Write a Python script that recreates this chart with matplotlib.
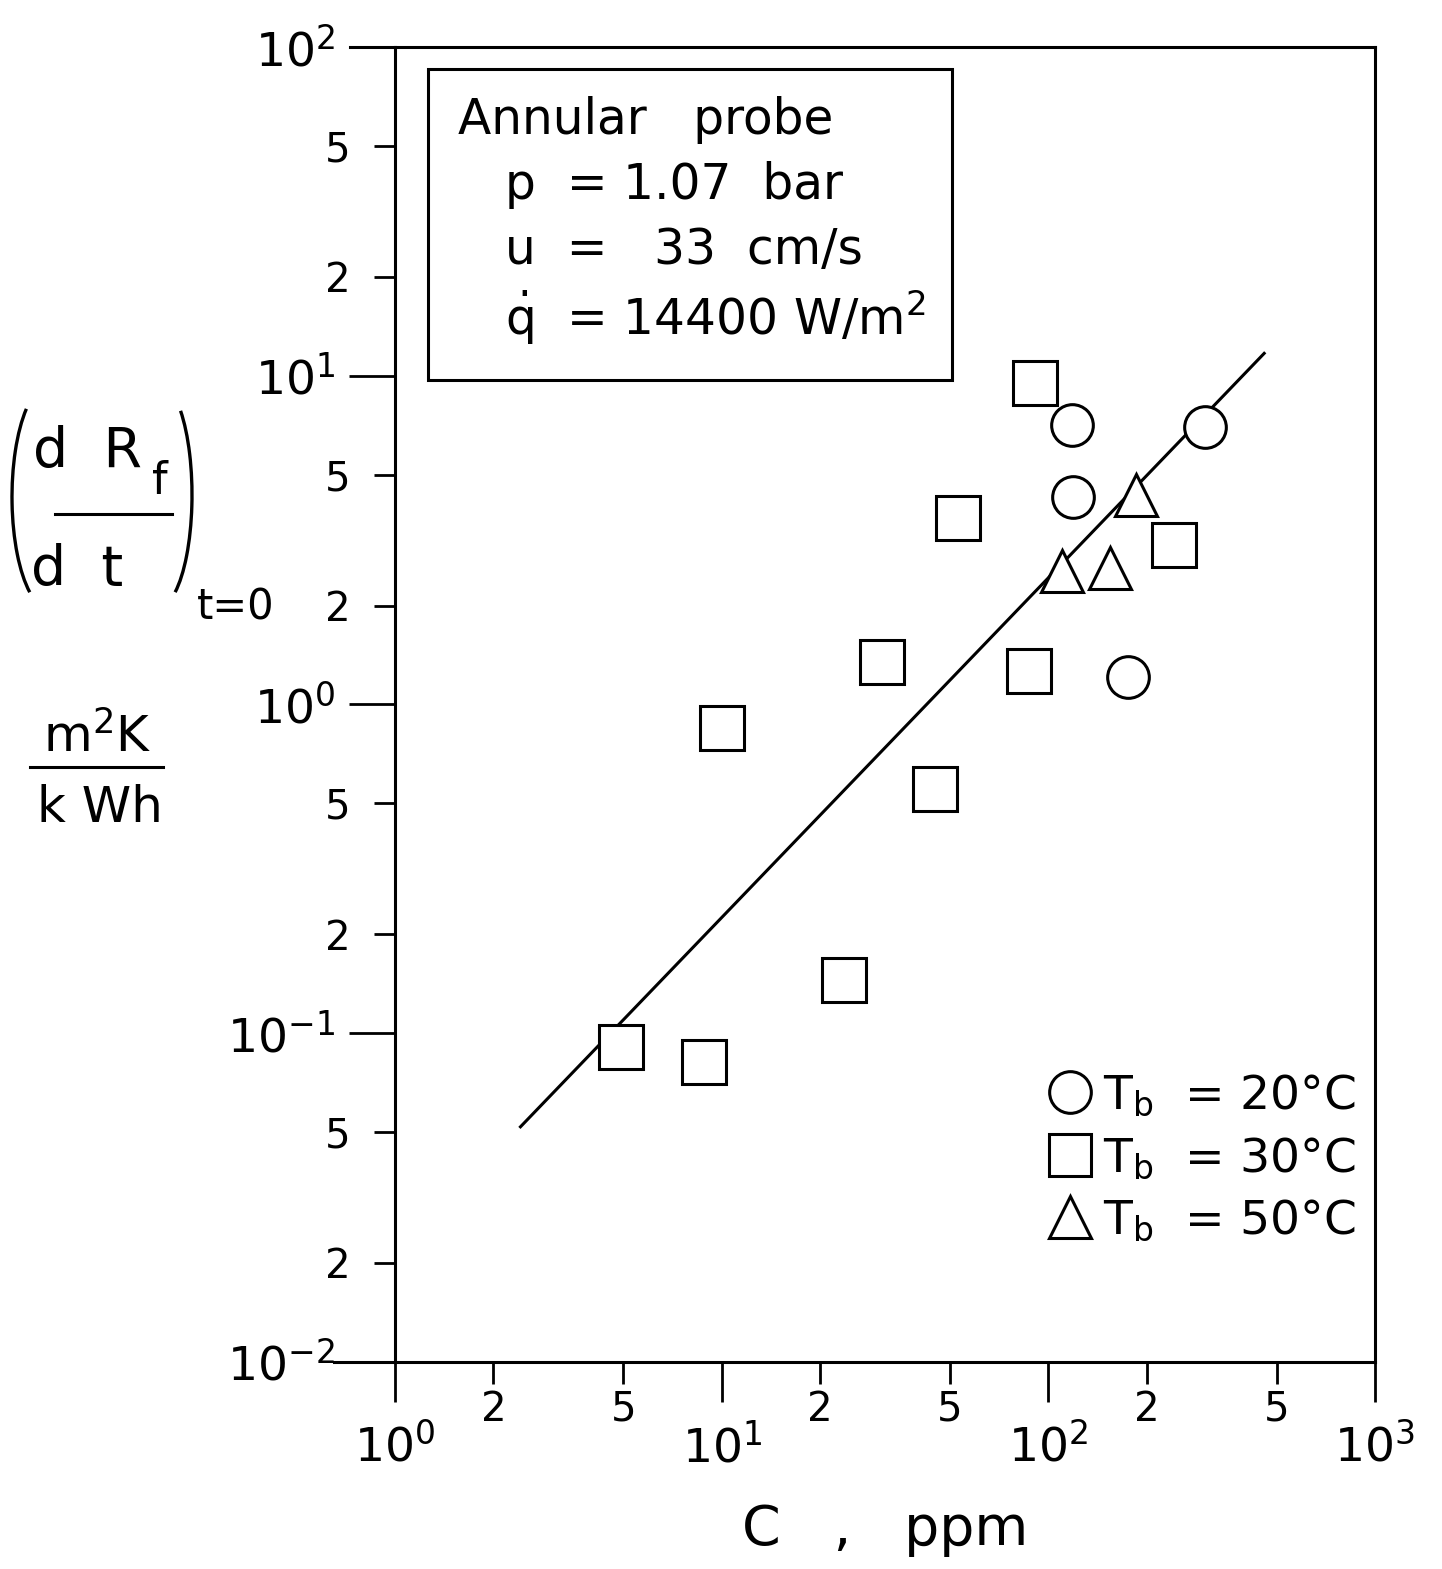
import matplotlib
matplotlib.use("Agg")
import matplotlib.pyplot as plt
import numpy as np
from matplotlib.lines import Line2D
from matplotlib.patches import Rectangle, Arc
from matplotlib.ticker import FixedLocator, FuncFormatter, FixedFormatter


# concentration C (ppm) and initial fouling rate (m2K/kWh) per bulk temperature
c_20 = [118, 301, 119, 175]
rate_20 = [7.1, 7.0, 4.28, 1.21]

c_30 = [91, 53, 243, 31, 87, 10, 45, 23.6, 4.9, 8.8]
rate_30 = [9.5, 3.7, 3.05, 1.35, 1.26, 0.85, 0.553, 0.145, 0.0908, 0.0818]

c_50 = [185, 110, 154]
rate_50 = [4.33, 2.55, 2.60]

# fitted line, end points
fit_c = [2.42, 458]
fit_rate = [0.0519, 11.7]

legend_labels = [r"$\mathrm{T_b}$  = 20°C", r"$\mathrm{T_b}$  = 30°C", r"$\mathrm{T_b}$  = 50°C"]
box_lines = [
    "Annular   probe",
    "p  = 1.07  bar",
    "u  =   33  cm/s",
    r"$\dot{\mathrm{q}}$  = 14400 W/m$^2$",
]

X_MINOR = [2, 5, 20, 50, 200, 500]
X_MINOR_LABELS = ["2", "5", "2", "5", "2", "5"]
Y_MINOR = [0.02, 0.05, 0.2, 0.5, 2, 5, 20, 50]
Y_MINOR_LABELS = ["2", "5", "2", "5", "2", "5", "2", "5"]

W, H = 1442, 1569


def decade_label(v, pos):
    return rf"$\mathrm{{10^{{{int(round(np.log10(v)))}}}}}$"


def px(x, y):
    return x / W, 1 - y / H


def main() -> None:
    plt.rcParams["font.family"] = ["DejaVu Sans"]
    plt.rcParams["mathtext.fontset"] = "dejavusans"

    fig = plt.figure(figsize=(W / 100, H / 100), dpi=100)
    ax = fig.add_axes([0.274, 0.132, 0.6795, 0.838])

    ax.plot(fit_c, fit_rate, color="black", lw=2.2, zorder=2)
    mk = dict(ls="none", mfc="white", mec="black", mew=2.2, zorder=3)
    ax.plot(c_20, rate_20, marker="o", ms=30, **mk)
    ax.plot(c_30, rate_30, marker="s", ms=31, **mk)
    ax.plot(c_50, rate_50, marker="^", ms=30, **mk)

    ax.set_xscale("log")
    ax.set_yscale("log")
    ax.set_xlim(1, 1000)
    ax.set_ylim(0.01, 100)

    ax.xaxis.set_major_locator(FixedLocator([1, 10, 100, 1000]))
    ax.yaxis.set_major_locator(FixedLocator([0.01, 0.1, 1, 10, 100]))
    ax.xaxis.set_major_formatter(FuncFormatter(decade_label))
    ax.yaxis.set_major_formatter(FuncFormatter(decade_label))
    ax.xaxis.set_minor_locator(FixedLocator(X_MINOR))
    ax.yaxis.set_minor_locator(FixedLocator(Y_MINOR))
    ax.xaxis.set_minor_formatter(FixedFormatter(X_MINOR_LABELS))
    ax.yaxis.set_minor_formatter(FixedFormatter(Y_MINOR_LABELS))

    ax.tick_params(axis="x", which="major", length=29, width=2, pad=16, labelsize=34)
    ax.tick_params(axis="x", which="minor", length=16, width=2, pad=4, labelsize=29)
    ax.tick_params(axis="y", which="major", length=33, width=2, pad=10, labelsize=34)
    ax.tick_params(axis="y", which="minor", length=15, width=2, pad=17, labelsize=29)

    for sp in ax.spines.values():
        sp.set_linewidth(2.2)
    # frame lines run a bit past the left spine
    ax.plot([-0.046, 0], [1, 1], transform=ax.transAxes, color="black", lw=2.2, clip_on=False)
    ax.plot([-0.062, 0], [0, 0], transform=ax.transAxes, color="black", lw=2.2, clip_on=False)

    ax.set_xlabel("C   ,   ppm", fontsize=40, labelpad=22)

    # info box
    ax.add_patch(Rectangle((0.034, 0.747), 0.534, 0.236, transform=ax.transAxes,
                           fill=False, lw=2.2, ec="black"))
    ys = [0.9445, 0.895, 0.8456, 0.7939]
    xs = [0.064, 0.112, 0.112, 0.112]
    for x, y, s in zip(xs, ys, box_lines):
        ax.text(x, y, s, transform=ax.transAxes, fontsize=35, va="center", ha="left")

    handles = [
        Line2D([], [], marker=m, ms=30, ls="none", mfc="white", mec="black", mew=2.2)
        for m in ["o", "s", "^"]
    ]
    ax.legend(handles, legend_labels, loc="upper left", bbox_to_anchor=(0.641, 0.238),
              frameon=False, fontsize=34, borderpad=0, handlelength=1.0,
              handletextpad=0.2, labelspacing=0.36)

    # y-axis label: (dR_f / dt)_{t=0}  and units m2K / kWh
    fs = 40
    fig.text(*px(33, 452), "d  R", fontsize=fs, ha="left", va="center")
    fig.text(*px(160, 482), "f", fontsize=32, ha="center", va="center")
    fig.add_artist(Line2D([px(55, 0)[0], px(172, 0)[0]], [px(0, 514)[1]] * 2, color="black", lw=2.2))
    fig.text(*px(31, 570), "d  t", fontsize=fs, ha="left", va="center")
    fig.text(*px(197, 608), "t=0", fontsize=30, ha="left", va="center")
    # parentheses drawn as arcs (inch coordinates)
    dpi = 100
    fig.add_artist(Arc((50 / dpi, (H - 497) / dpi), 76 / dpi, 225 / dpi, theta1=105, theta2=258,
                       transform=fig.dpi_scale_trans, lw=2.4, color="black"))
    fig.add_artist(Arc((158 / dpi, (H - 495) / dpi), 68 / dpi, 225 / dpi, theta1=-80, theta2=75,
                       transform=fig.dpi_scale_trans, lw=2.4, color="black"))

    fig.text(*px(97, 737), r"m$^{2}$K", fontsize=36, ha="center", va="center")
    fig.add_artist(Line2D([px(30, 0)[0], px(163, 0)[0]], [px(0, 767)[1]] * 2, color="black", lw=2.2))
    fig.text(*px(100, 808), "k Wh", fontsize=36, ha="center", va="center")

    fig.savefig("out.png", dpi=100)
    plt.close(fig)


if __name__ == "__main__":
    main()
